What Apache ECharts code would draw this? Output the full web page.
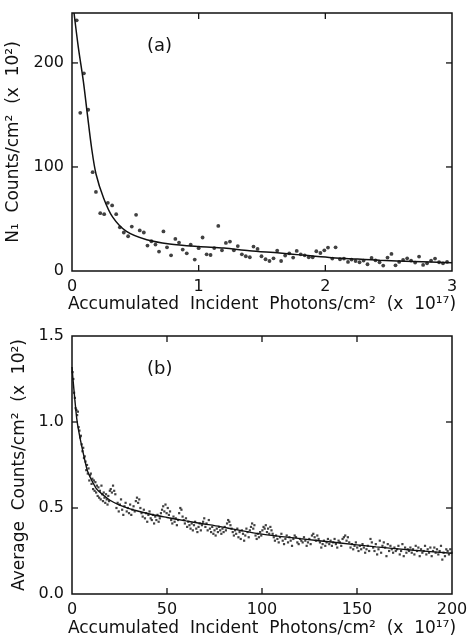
<!DOCTYPE html>
<html>
<head>
<meta charset="utf-8">
<script src="https://cdn.jsdelivr.net/npm/echarts@6/dist/echarts.min.js"></script>
<style>html,body{margin:0;padding:0;background:#fff;}#c{width:468px;height:638px;}</style>
</head>
<body>
<div id="c"></div>
<script>
// ---------- Panel (a) ----------
const xA = [0.037,0.065,0.094,0.128,0.163,0.189,0.223,0.254,0.283,0.317,0.349,0.378,0.409,0.443,0.472,0.506,0.535,0.567,0.596,0.627,0.659,0.687,0.722,0.750,0.782,0.816,0.845,0.874,0.906,0.937,0.969,1.0,1.031,1.063,1.094,1.123,1.155,
  1.184,1.215,1.247,1.278,1.309,1.341,1.372,1.404,1.433,1.465,1.496,1.528,1.559,1.591,1.620,1.651,1.683,1.715,1.746,1.774,1.806,1.837,1.869,1.900,1.929,1.961,1.992,2.021,
  2.055,2.081,2.116,2.147,2.179,2.207,2.239,2.270,2.302,2.333,2.365,2.396,2.428,2.457,2.491,2.522,2.554,2.583,2.614,2.646,2.677,2.709,2.740,2.772,2.803,2.835,2.866,2.898,2.929,2.961];
const yA = [241,152,190,155,95,76,55.6,54.6,65.5,63,54.6,42,37,33.4,42.7,54,39,37,24.4,28.6,25.4,18.7,38,22.8,15.1,30.8,27.3,20.6,17,25.4,11,21.9,32.2,16,15.4,22,43.3,
  19.9,27,28.3,19.9,24,16,14.2,13.2,23.5,21.2,14.2,11.3,9.6,12.2,19.6,9.6,14.8,17,12.9,19.3,16,15.1,13.2,13.2,19,17.3,19.9,22.5,
  11.9,22.8,11.3,11.9,8.7,11,9.6,8.4,10,6.5,12.5,10.3,8.4,5.2,12.9,16.4,5.5,8.7,10.6,12.2,10,8.1,13.9,5.8,7.4,10,11.9,8.4,7.4,8.7];
const fitXA = [0.016,0.05,0.09,0.12,0.155,0.19,0.25,0.32,0.43,0.59,0.77,1.0,1.2,1.4,1.64,1.8,2.03,2.2,2.43,2.7,3.0];
const fitYA = [248,215,182,152,118,93,70,52,38,30,26,23.5,22,19.5,17.3,15.5,13,11.8,10.3,9.2,8];
const xTicksA = [0,1,2,3];
const yTicksA = [0,100,200];

// ---------- Panel (b) ----------
const xB = [0.3,0.7,1.1,1.5,1.9,2.3,2.7,3.1,3.5,3.9,4.3,4.7,5.1,5.5,5.9,6.3,6.7,7.1,7.5,7.9,8.3,8.7,9.1,9.5,9.9,10.3,10.7,11.1,11.5,11.9,12.3,12.7,13.1,13.5,13.9,14.3,14.7,15.1,15.5,15.9,16.3,16.7,17.1,17.5,17.9,18.3,18.7,19.1,19.5,19.9,
  20.4,21.0,21.6,22.2,22.8,23.4,24.0,24.6,25.2,25.8,26.4,27.0,27.6,28.2,28.8,29.4,30.0,30.6,31.2,31.8,32.4,33.0,33.6,34.2,34.8,35.4,36.0,36.6,37.2,37.8,38.4,39.0,39.6,40.2,40.8,41.4,42.0,42.6,43.2,43.8,44.4,45.0,45.6,46.2,46.8,47.4,48.0,48.6,49.2,49.8,
  50.4,51.0,51.6,52.2,52.8,53.4,54.0,54.6,55.2,55.8,56.4,57.0,57.6,58.2,58.8,59.4,60.0,60.6,61.2,61.8,62.4,63.0,63.6,64.2,64.8,65.4,66.0,66.6,67.2,67.8,68.4,69.0,69.6,70.2,70.8,71.4,72.0,72.6,73.2,73.8,74.4,75.0,75.6,76.2,76.8,77.4,78.0,78.6,79.2,79.8,
  80.4,81.0,81.6,82.2,82.8,83.4,84.0,84.6,85.2,85.8,86.4,87.0,87.6,88.2,88.8,89.4,90.0,90.6,91.2,91.8,92.4,93.0,93.6,94.2,94.8,95.4,96.0,96.6,97.2,97.8,98.4,99.0,99.6,100.2,100.8,101.4,102.0,102.6,103.2,103.8,104.4,105.0,105.6,106.2,106.8,107.4,
  108.1,108.8,109.5,110.2,110.9,111.6,112.3,113.0,113.7,114.4,115.1,115.8,116.5,117.2,117.9,118.6,119.3,120.0,120.7,121.4,122.1,122.8,123.5,124.2,124.9,125.6,126.3,127.0,127.7,128.4,
  129.1,129.8,130.5,131.2,131.9,132.6,133.3,134.0,134.7,135.4,136.1,136.8,137.5,138.2,138.9,139.6,140.3,141.0,141.7,142.4,143.1,143.8,144.5,145.2,145.9,146.6,147.3,148.0,148.7,149.4,
  150.1,150.8,151.5,152.2,152.9,153.6,154.3,155.0,155.7,156.4,157.1,157.8,158.5,159.2,159.9,160.6,161.3,162.0,162.7,163.4,164.1,164.8,165.5,166.2,166.9,167.6,168.3,169.0,169.7,170.4,
  171.1,171.8,172.5,173.2,173.9,174.6,175.3,176.0,176.7,177.4,178.1,178.8,179.5,180.2,180.9,181.6,182.3,183.0,183.7,184.4,185.1,185.8,186.5,187.2,187.9,188.6,189.3,190.0,190.7,191.4,
  192.1,192.8,193.5,194.2,194.9,195.6,196.3,197.0,197.7,198.4,199.1,199.8];
const yB = [1.29,1.25,1.17,1.14,1.08,1.07,1.04,1.06,0.97,0.95,0.91,0.92,0.87,0.83,0.85,0.79,0.8,0.77,0.72,0.75,0.7,0.73,0.66,0.69,0.7,0.64,0.67,0.61,0.66,0.6,0.65,0.59,0.63,0.57,0.62,0.56,0.6,0.55,0.63,0.58,0.54,0.59,0.56,0.53,0.58,0.55,0.52,0.57,0.54,0.6,
  0.61,0.59,0.63,0.6,0.58,0.5,0.53,0.48,0.52,0.55,0.49,0.46,0.51,0.53,0.48,0.5,0.47,0.52,0.46,0.49,0.51,0.48,0.54,0.56,0.53,0.55,0.5,0.47,0.45,0.49,0.44,0.47,0.42,0.46,0.48,0.44,0.43,0.46,0.41,0.45,0.43,0.46,0.42,0.44,0.47,0.49,0.51,0.48,0.52,0.47,
  0.5,0.46,0.48,0.43,0.41,0.45,0.42,0.44,0.4,0.43,0.47,0.5,0.49,0.45,0.43,0.41,0.44,0.39,0.42,0.4,0.38,0.41,0.37,0.4,0.42,0.38,0.36,0.39,0.41,0.37,0.4,0.42,0.44,0.39,0.41,0.37,0.43,0.38,0.36,0.39,0.35,0.37,0.34,0.38,0.36,0.39,0.37,0.35,0.38,0.36,
  0.39,0.37,0.41,0.43,0.42,0.4,0.38,0.36,0.34,0.37,0.35,0.38,0.33,0.36,0.32,0.37,0.35,0.31,0.34,0.38,0.36,0.33,0.37,0.39,0.41,0.38,0.4,0.34,0.32,0.35,0.33,0.36,0.34,0.37,0.39,0.38,0.4,0.36,0.38,0.35,0.39,0.37,0.35,0.33,0.31,0.34,
  0.32,0.3,0.33,0.35,0.31,0.29,0.32,0.34,0.3,0.33,0.31,0.28,0.32,0.34,0.33,0.3,0.29,0.32,0.31,0.3,0.33,0.31,0.28,0.3,0.32,0.29,0.34,0.35,0.33,0.31,
  0.34,0.32,0.3,0.27,0.29,0.31,0.28,0.3,0.32,0.29,0.31,0.28,0.3,0.32,0.29,0.27,0.31,0.3,0.28,0.32,0.33,0.34,0.31,0.33,0.3,0.27,0.29,0.26,0.28,0.3,
  0.27,0.25,0.28,0.26,0.29,0.27,0.24,0.26,0.28,0.25,0.32,0.3,0.27,0.25,0.29,0.23,0.26,0.31,0.24,0.28,0.3,0.27,0.22,0.29,0.25,0.28,0.26,0.24,0.27,0.25,
  0.26,0.28,0.23,0.25,0.29,0.22,0.27,0.24,0.26,0.25,0.27,0.24,0.26,0.23,0.28,0.25,0.27,0.22,0.26,0.24,0.25,0.28,0.23,0.26,0.24,0.27,0.22,0.25,0.27,0.24,
  0.26,0.23,0.25,0.28,0.2,0.24,0.22,0.26,0.25,0.23,0.26,0.24];
const fitXB = [0,0.5,1,1.5,2.5,3.5,5,6.5,8,9.5,11,13,16.5,20,25,34,42,50,60,68,78,85,100,120,140,160,180,200];
const fitYB = [1.32,1.25,1.19,1.13,1.02,0.95,0.865,0.79,0.72,0.68,0.648,0.61,0.575,0.545,0.517,0.484,0.462,0.445,0.425,0.41,0.392,0.377,0.348,0.322,0.298,0.274,0.254,0.237];
const xTicksB = [0,50,100,150,200];
const yTicksB = [0,0.5,1.0,1.5];

const xNameA = 'Accumulated  Incident  Photons/cm\u00B2  (x  10\u00B9\u2077)';
const yNameA = 'N\u2081  Counts/cm\u00B2  (x  10\u00B2)';
const xNameB = 'Accumulated  Incident  Photons/cm\u00B2  (x  10\u00B9\u2077)';
const yNameB = 'Average  Counts/cm\u00B2  (x  10\u00B2)';

const zip = (a, b) => a.map((v, i) => [v, b[i]]);
const FONT = 'DejaVu Sans';
const INK = '#111';
const near = (arr, v) => arr.some(t => Math.abs(t - v) < 1e-6);

function ax(extra) {
  return Object.assign({
    type: 'value',
    axisLine: { show: false, onZero: false },
    axisTick: { show: false },
    splitLine: { show: false }
  }, extra);
}
const nameStyle = () => ({ color: INK, fontSize: 17, fontFamily: FONT });
const labelStyle = (margin, fmt) => ({ show: true, color: INK, fontSize: 16, fontFamily: FONT, margin: margin, formatter: fmt });

const chart = echarts.init(document.getElementById('c'));
chart.setOption({
  backgroundColor: '#fff',
  animation: false,
  grid: [
    { left: 72, top: 13, width: 380, height: 258, containLabel: false, outerBoundsMode: 'none' },
    { left: 72, top: 336, width: 380, height: 258, containLabel: false, outerBoundsMode: 'none' }
  ],
  xAxis: [
    ax({ gridIndex: 0, min: 0, max: 3, interval: 1, position: 'bottom',
      axisLabel: labelStyle(8, v => near(xTicksA, v) ? String(v) : ''),
      name: xNameA, nameLocation: 'middle', nameGap: 24, nameTextStyle: nameStyle() }),
    ax({ gridIndex: 1, min: 0, max: 200, interval: 50, position: 'bottom',
      axisLabel: labelStyle(8, v => near(xTicksB, v) ? String(v) : ''),
      name: xNameB, nameLocation: 'middle', nameGap: 26, nameTextStyle: nameStyle() })
  ],
  yAxis: [
    ax({ gridIndex: 0, min: 0, max: 248, interval: 100, position: 'left',
      axisLabel: labelStyle(8, v => near(yTicksA, v) ? String(v) : ''),
      name: yNameA, nameLocation: 'middle', nameGap: 29, nameTextStyle: nameStyle() }),
    ax({ gridIndex: 1, min: 0, max: 1.5, interval: 0.5, position: 'left',
      axisLabel: labelStyle(8, v => near(yTicksB, v) ? v.toFixed(1) : ''),
      name: yNameB, nameLocation: 'middle', nameGap: 29, nameTextStyle: nameStyle() })
  ],
  series: [
    { type: 'scatter', xAxisIndex: 0, yAxisIndex: 0, data: zip(xA, yA), symbol: 'circle', symbolSize: 3.8,
      itemStyle: { color: INK } },
    { type: 'line', xAxisIndex: 0, yAxisIndex: 0, data: zip(fitXA, fitYA), smooth: 0.3, showSymbol: false,
      lineStyle: { color: INK, width: 1.5 } },
    { type: 'scatter', xAxisIndex: 1, yAxisIndex: 1, data: zip(xB, yB), symbol: 'rect', symbolSize: 2.2,
      itemStyle: { color: INK } },
    { type: 'line', xAxisIndex: 1, yAxisIndex: 1, data: zip(fitXB, fitYB), smooth: 0.3, showSymbol: false,
      lineStyle: { color: INK, width: 1.4 } }
  ]
});

// Frame and inward ticks on all four sides, placed through the axes' own scales.
const deco = [
  { type: 'text', left: 147, top: 37, z: 100, style: { text: '(a)', fontSize: 18, fontFamily: FONT, fill: INK } },
  { type: 'text', left: 147, top: 360, z: 100, style: { text: '(b)', fontSize: 18, fontFamily: FONT, fill: INK } }
];
const tickLine = (x1, y1, x2, y2) => ({ type: 'line', z: 100, silent: true,
  shape: { x1: x1, y1: y1, x2: x2, y2: y2 }, style: { stroke: INK, lineWidth: 1.3 } });
function addPanel(xi, yi, xmin, xmax, ymin, ymax, xt, yt) {
  const f = v => chart.convertToPixel({ xAxisIndex: xi, yAxisIndex: yi }, v);
  const p0 = f([xmin, ymin]), p1 = f([xmax, ymax]);
  const L = p0[0], R = p1[0], B = p0[1], T = p1[1];
  deco.push({ type: 'rect', z: 100, silent: true, shape: { x: L, y: T, width: R - L, height: B - T },
    style: { fill: 'none', stroke: INK, lineWidth: 1.5 } });
  xt.forEach(v => {
    if (v <= xmin || v >= xmax) return;
    const x = f([v, ymin])[0];
    deco.push(tickLine(x, B, x, B - 6));
    deco.push(tickLine(x, T, x, T + 6));
  });
  yt.forEach(v => {
    if (v <= ymin || v >= ymax) return;
    const y = f([xmin, v])[1];
    deco.push(tickLine(L, y, L + 6, y));
    deco.push(tickLine(R, y, R - 6, y));
  });
}
try {
  addPanel(0, 0, 0, 3, 0, 248, xTicksA, yTicksA);
  addPanel(1, 1, 0, 200, 0, 1.5, xTicksB, yTicksB);
} catch (e) { /* keep chart even if pixel conversion fails */ }
chart.setOption({ graphic: deco });
</script>
</body>
</html>
